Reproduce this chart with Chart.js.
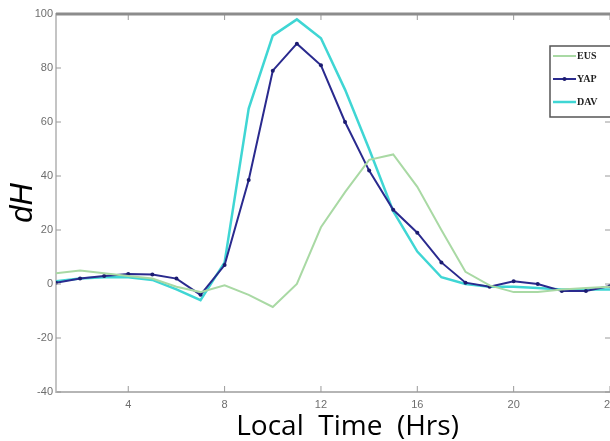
<!DOCTYPE html>
<html lang="en">
  <head>
    <meta charset="UTF-8" />
    <title>dH vs Local Time</title>
    <script src="https://cdn.jsdelivr.net/npm/chart.js"></script>
    <style>
      html, body {
        margin: 0;
        padding: 0;
        background: #ffffff;
        overflow: hidden;
      }
      .chart-container {
        position: relative;
        width: 610px;
        height: 441px;
        overflow: hidden;
      }
    </style>
  </head>
  <body>
    <div class="chart-container">
      <!-- canvas a bit wider than the window: the figure is cropped on the right -->
      <canvas id="dhChart" width="614" height="441"></canvas>
    </div>

    <script>
      // Local time (hours) and dH values
      const hours = [1, 2, 3, 4, 5, 6, 7, 8, 9, 10, 11, 12, 13, 14, 15, 16, 17, 18, 19, 20, 21, 22, 23, 24];
      const eusValues = [4, 5, 4, 3, 2, -1, -3, -0.5, -4, -8.5, 0, 21, 34, 46, 48, 36, 20, 4.5, -0.5, -3, -3, -2, -1.5, -1];
      const yapValues = [0.5, 2, 3, 3.7, 3.5, 2, -4, 7, 38.5, 79, 89, 81, 60, 42, 27.5, 19, 8, 0.5, -1, 1, 0, -2.6, -2.6, -0.7];
      const davValues = [1, 2, 2.5, 2.5, 1.5, -2, -6, 8, 65, 92, 98, 91, 72, 50, 27, 12, 2.5, 0, -1, -1, -1.5, -2, -2, -2];
      const xTicks = [4, 8, 12, 16, 20, 24];
      const yTicks = [-40, -20, 0, 20, 40, 60, 80, 100];
      const seriesNames = ["EUS", "YAP", "DAV"];

      const toPoints = vals => vals.map((v, i) => ({ x: hours[i], y: v }));

      // MATLAB-style inward tick marks on all four sides
      const innerTicks = {
        id: "innerTicks",
        afterDraw(chart) {
          const { ctx, chartArea: a, scales } = chart;
          ctx.save();
          ctx.strokeStyle = "#9a9a9a";
          ctx.lineWidth = 1;
          xTicks.forEach(t => {
            const px = scales.x.getPixelForValue(t);
            ctx.beginPath();
            ctx.moveTo(px, a.bottom);
            ctx.lineTo(px, a.bottom - 6);
            ctx.moveTo(px, a.top);
            ctx.lineTo(px, a.top + 6);
            ctx.stroke();
          });
          yTicks.forEach(t => {
            const py = scales.y.getPixelForValue(t);
            ctx.beginPath();
            ctx.moveTo(a.left, py);
            ctx.lineTo(a.left + 5, py);
            ctx.moveTo(a.right, py);
            ctx.lineTo(a.right - 5, py);
            ctx.stroke();
          });
          // top border
          ctx.strokeStyle = "#8c8c8c";
          ctx.lineWidth = 3;
          ctx.beginPath();
          ctx.moveTo(a.left, a.top);
          ctx.lineTo(a.right, a.top);
          ctx.stroke();
          ctx.restore();
        }
      };

      // boxed legend in the upper right corner of the plot
      const boxLegend = {
        id: "boxLegend",
        afterDraw(chart) {
          const { ctx } = chart;
          const left = 550, top = 46, w = 62, h = 71;
          ctx.save();
          ctx.fillStyle = "#ffffff";
          ctx.fillRect(left, top, w, h);
          ctx.strokeStyle = "#555555";
          ctx.lineWidth = 1.5;
          ctx.strokeRect(left, top, w, h);
          ctx.font = "bold 10px 'Liberation Serif', serif";
          ctx.textBaseline = "middle";
          chart.data.datasets.forEach((ds, i) => {
            const y = 56 + i * 23;
            ctx.strokeStyle = ds.borderColor;
            ctx.lineWidth = ds.borderWidth;
            ctx.beginPath();
            ctx.moveTo(left + 3, y);
            ctx.lineTo(left + 26, y);
            ctx.stroke();
            if (ds.pointRadius > 0) {
              ctx.fillStyle = ds.pointBackgroundColor;
              ctx.beginPath();
              ctx.arc(left + 14.5, y, 2, 0, Math.PI * 2);
              ctx.fill();
            }
            ctx.fillStyle = "#222222";
            ctx.fillText(ds.label, left + 27, y);
          });
          ctx.restore();
        }
      };

      const ctx = document.getElementById("dhChart").getContext("2d");
      new Chart(ctx, {
        type: "line",
        data: {
          datasets: [
            {
              label: seriesNames[0],
              data: toPoints(eusValues),
              borderColor: "#a9d9a4",
              borderWidth: 2,
              pointRadius: 0,
              tension: 0
            },
            {
              label: seriesNames[1],
              data: toPoints(yapValues),
              borderColor: "#2a2a8e",
              borderWidth: 2,
              pointRadius: 2,
              pointBackgroundColor: "#1c1c70",
              pointBorderColor: "#1c1c70",
              pointBorderWidth: 0,
              tension: 0
            },
            {
              label: seriesNames[2],
              data: toPoints(davValues),
              borderColor: "#3fd6d4",
              borderWidth: 2.5,
              pointRadius: 0,
              tension: 0
            }
          ]
        },
        options: {
          responsive: false,
          animation: false,
          maintainAspectRatio: false,
          layout: { padding: { top: 14, right: 0, bottom: 0, left: 0 } },
          plugins: {
            legend: { display: false },
            tooltip: { enabled: false }
          },
          scales: {
            x: {
              type: "linear",
              min: 1,
              max: 24,
              afterBuildTicks: s => { s.ticks = xTicks.map(v => ({ value: v })); },
              afterFit: s => { s.height = 49; s.paddingRight = 0; },
              grid: { display: false, drawTicks: false },
              border: { display: true, color: "#b5b5b5", width: 2 },
              ticks: { autoSkip: false, color: "#6e6e6e", font: { size: 11, family: "'Liberation Sans Narrow', 'Liberation Sans', sans-serif" }, padding: 6, maxRotation: 0 },
              title: {
                display: true,
                // leading spaces nudge the centred label to the right, as in the figure
                text: "    Local  Time  (Hrs)",
                color: "#000000",
                font: { size: 28, family: "'Open Sans', sans-serif" },
                padding: { top: 0, bottom: -3 }
              }
            },
            y: {
              min: -40,
              max: 100,
              afterBuildTicks: s => { s.ticks = yTicks.map(v => ({ value: v })); },
              afterFit: s => { s.width = 56; },
              grid: { display: false, drawTicks: false },
              border: { display: true, color: "#c4c4c4", width: 2 },
              ticks: { autoSkip: false, color: "#6e6e6e", font: { size: 11, family: "'Liberation Sans Narrow', 'Liberation Sans', sans-serif" }, padding: 3 },
              title: {
                display: true,
                text: "dH",
                color: "#000000",
                font: { size: 31, style: "italic", family: "'Liberation Sans', sans-serif" },
                padding: { top: 5, bottom: 0 }
              }
            }
          }
        },
        plugins: [innerTicks, boxLegend]
      });
    </script>
  </body>
</html>
